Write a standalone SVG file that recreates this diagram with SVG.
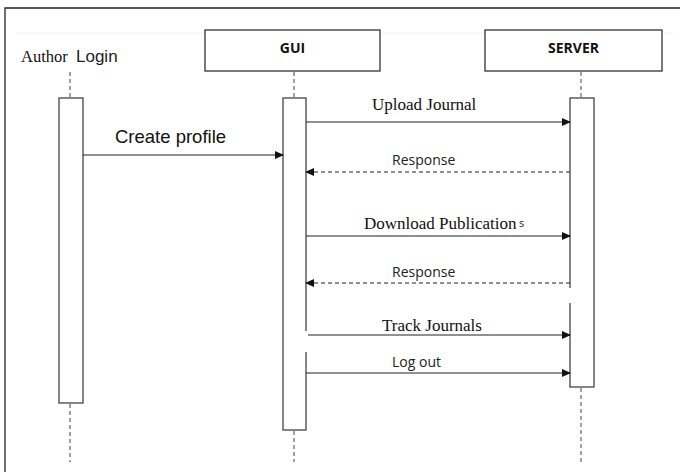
<svg xmlns="http://www.w3.org/2000/svg" width="681" height="472" viewBox="0 0 681 472">
<defs>
<marker id="ah" markerWidth="9" markerHeight="8" refX="8" refY="4" orient="auto" markerUnits="userSpaceOnUse">
<path d="M0,0 L9,4 L0,8 Z" fill="#111"/>
</marker>
<style>
.box{fill:#fff;stroke:#333;stroke-width:1.3}
.act{fill:#fff;stroke:#444;stroke-width:1.3}
.life{stroke:#444;stroke-width:1;stroke-dasharray:4,3;fill:none}
.msg{stroke:#222;stroke-width:1.2;fill:none}
.ret{stroke:#222;stroke-width:1.2;fill:none;stroke-dasharray:4,3}
.serif{font-family:"Liberation Serif",serif;fill:#111}
.sans{font-family:"Open Sans","Liberation Sans",sans-serif;fill:#222}
</style>
</defs>
<rect width="681" height="472" fill="#fff"/>
<path d="M5,472 V8 H680" fill="none" stroke="#222" stroke-width="1.3"/>
<line x1="16" y1="33" x2="673" y2="33" stroke="#f2f2f2" stroke-width="1"/>

<g id="author">
<text x="21" y="62" class="serif" font-size="16.5">Author</text>
<text x="76" y="62" font-family="'Liberation Sans',sans-serif" font-size="17" fill="#222">Login</text>
<line x1="70" y1="72" x2="70" y2="98" class="life"/>
<rect x="59" y="98" width="24" height="305" class="act"/>
<line x1="70" y1="404" x2="70" y2="462" class="life"/>
</g>

<g id="gui">
<rect x="205" y="30" width="175" height="41" class="box"/>
<text x="292.5" y="53" text-anchor="middle" font-family="'Open Sans','Liberation Sans',sans-serif" font-weight="bold" font-size="14" fill="#111">GUI</text>
<line x1="294" y1="72" x2="294" y2="98" class="life"/>
<rect x="283" y="98" width="23" height="332" class="act"/>
<rect x="305" y="331" width="3" height="21" fill="#fff"/>
<line x1="294" y1="431" x2="294" y2="462" class="life"/>
</g>

<g id="server">
<rect x="485" y="30" width="177" height="41" class="box"/>
<text x="573.5" y="53" text-anchor="middle" font-family="'Open Sans','Liberation Sans',sans-serif" font-weight="bold" font-size="14" fill="#111">SERVER</text>
<line x1="581" y1="72" x2="581" y2="98" class="life"/>
<rect x="570" y="98" width="24" height="289" class="act"/>
<rect x="568" y="288" width="3" height="15" fill="#fff"/>
<line x1="581" y1="388" x2="581" y2="462" class="life"/>
</g>

<g id="connectors">
<line x1="83" y1="155" x2="283" y2="155" class="msg" marker-end="url(#ah)"/>
<text x="115" y="143" font-family="'Liberation Sans',sans-serif" font-size="18.5" fill="#111">Create profile</text>

<line x1="306" y1="122" x2="570" y2="122" class="msg" marker-end="url(#ah)"/>
<text x="372" y="110" class="serif" font-size="17">Upload Journal</text>

<line x1="570" y1="172" x2="306" y2="172" class="ret" marker-end="url(#ah)"/>
<text x="392" y="165" class="sans" font-size="14">Response</text>

<line x1="306" y1="236" x2="570" y2="236" class="msg" marker-end="url(#ah)"/>
<text x="364" y="229" class="serif" font-size="17">Download Publication</text>
<text x="519" y="227" class="sans" font-size="11">s</text>

<line x1="570" y1="283" x2="306" y2="283" class="ret" marker-end="url(#ah)"/>
<text x="392" y="277" class="sans" font-size="14">Response</text>

<line x1="308" y1="335" x2="570" y2="335" class="msg" marker-end="url(#ah)"/>
<text x="382" y="331" class="serif" font-size="17">Track Journals</text>

<line x1="306" y1="373" x2="570" y2="373" class="msg" marker-end="url(#ah)"/>
<text x="392" y="367" class="sans" font-size="14">Log out</text>
</g>
</svg>
